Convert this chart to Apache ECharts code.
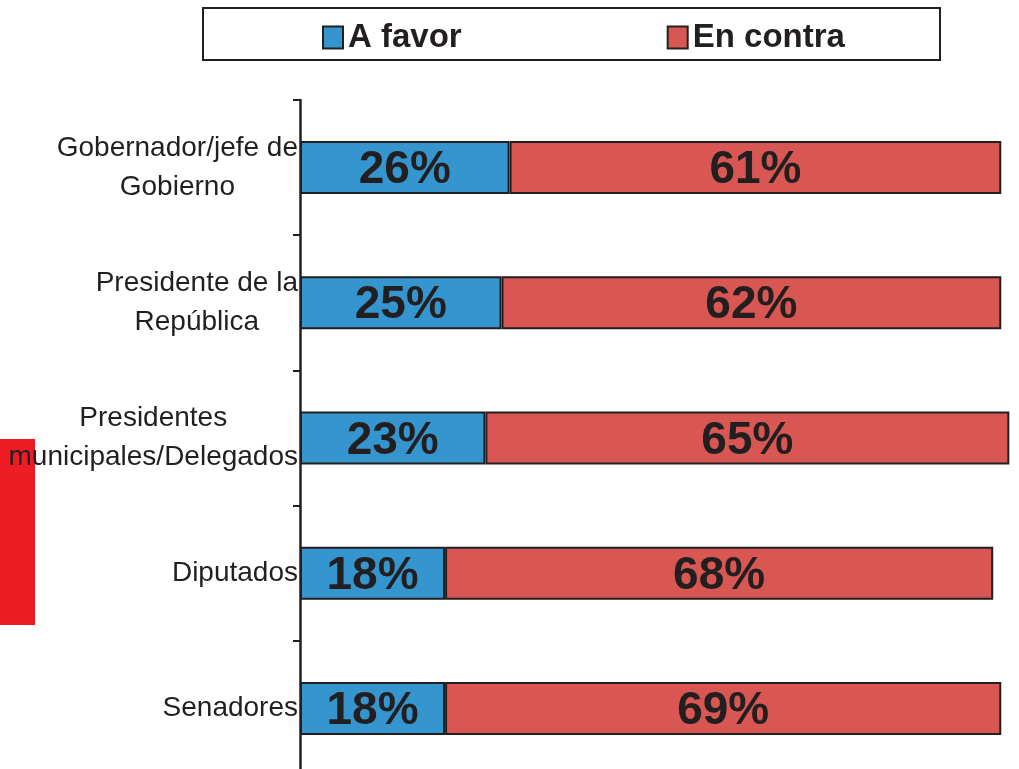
<!DOCTYPE html>
<html lang="es">
  <head>
    <meta charset="utf-8" />
    <script src="https://cdn.jsdelivr.net/npm/echarts@6/dist/echarts.min.js"></script>
  </head>
  <body style="margin: 0; background: #fff; overflow: hidden">
    <div id="container" style="width: 1019px; height: 776px"></div>
    <script type="text/javascript">
      const categories = [
        'Gobernador/jefe de\nGobierno',
        'Presidente de la\nRepública',
        'Presidentes\nmunicipales/Delegados',
        'Diputados',
        'Senadores',
      ]
      const aFavor = [26, 25, 23, 18, 18]
      const enContra = [61, 62, 65, 68, 69]

      const ink = '#231f20'
      const font = 'Arial, "Liberation Sans", sans-serif'
      const chart = echarts.init(document.getElementById('container'), null, { renderer: 'canvas' })

      const barLabel = {
        show: true,
        position: 'inside',
        offset: [0, 3],
        formatter: '{c}%',
        color: ink,
        fontSize: 46,
        fontWeight: 'bold',
        fontFamily: font,
      }

      const option = {
        animation: false,
        backgroundColor: '#fff',
        textStyle: { fontFamily: font },
        graphic: [
          {
            type: 'rect',
            shape: { x: 203, y: 8, width: 737, height: 52 },
            style: { fill: 'none', stroke: ink, lineWidth: 2 },
          },
          {
            type: 'rect',
            shape: { x: 0, y: 439, width: 35, height: 186 },
            style: { fill: '#ed1c24' },
            z: -1,
          },
        ],
        legend: {
          left: 317,
          top: 16,
          icon: 'rect',
          itemWidth: 20,
          itemHeight: 22,
          itemGap: 205,
          textStyle: { fontSize: 33, fontWeight: 'bold', color: ink, fontFamily: font },
          itemStyle: { borderColor: ink, borderWidth: 2 },
          data: ['A favor', 'En contra'],
        },
        grid: { left: 300, top: 100, right: 0, bottom: 0, containLabel: false },
        xAxis: {
          type: 'value',
          min: 0,
          max: 89.2,
          show: false,
        },
        yAxis: {
          type: 'category',
          inverse: true,
          data: categories,
          axisLine: { show: true, lineStyle: { color: ink, width: 2.5 } },
          axisTick: { show: true, length: 7, lineStyle: { color: ink, width: 2 } },
          axisLabel: {
            margin: 2,
            align: 'right',
            formatter: (v) =>
              v
                .split('\n')
                .map((s) => '{a|' + s + '}')
                .join('\n'),
            rich: {
              a: { align: 'center', fontSize: 28, lineHeight: 39, color: ink, fontFamily: font },
            },
          },
        },
        series: [
          {
            name: 'A favor',
            type: 'bar',
            stack: 'total',
            barWidth: 53,
            data: aFavor,
            itemStyle: { color: '#3596cf', borderColor: ink, borderWidth: 2 },
            label: barLabel,
          },
          {
            name: 'En contra',
            type: 'bar',
            stack: 'total',
            barWidth: 53,
            data: enContra,
            itemStyle: { color: '#d95753', borderColor: ink, borderWidth: 2 },
            label: barLabel,
          },
        ],
      }

      chart.setOption(option)
    </script>
  </body>
</html>
